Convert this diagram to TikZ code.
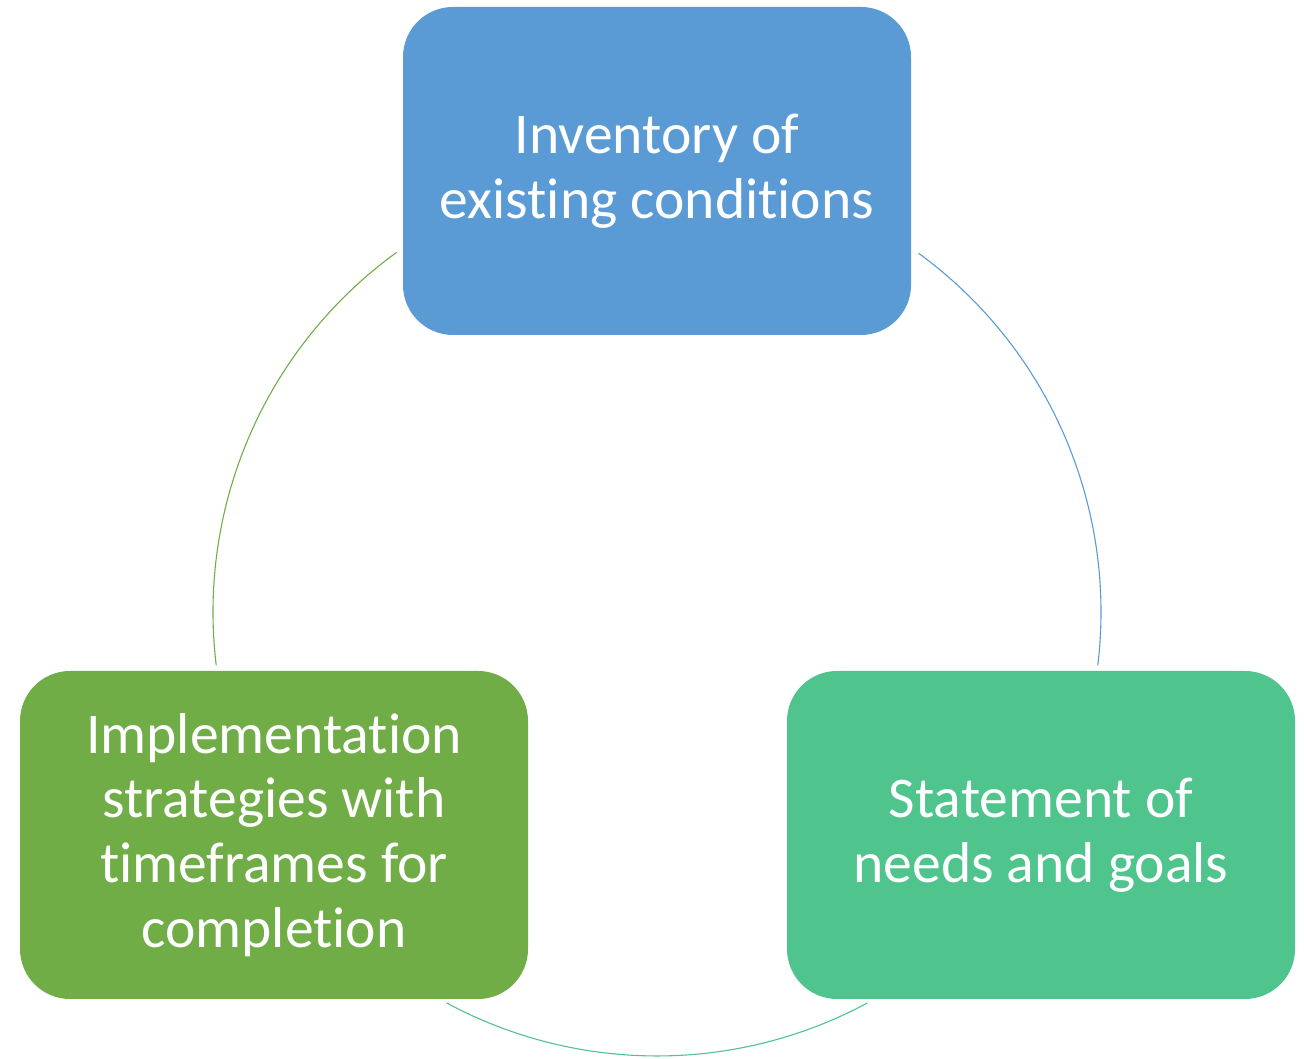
\documentclass[tikz,border=0pt]{standalone}
\usepackage{fontspec}
\setmainfont{Carlito}[Ligatures=NoCommon]
\definecolor{cblue}{HTML}{5B9BD5}
\definecolor{cteal}{HTML}{4FC48D}
\definecolor{cgreen}{HTML}{70AD47}
\begin{document}
\begin{tikzpicture}[x=1pt,y=1pt,
  stagebox/.style={rounded corners=50pt, minimum width=508pt, minimum height=328pt,
    inner sep=0pt, align=center, text=white,
    font=\fontsize{57.6}{64.7}\selectfont},
  cyclearc/.style={line width=1.1pt}]
\fill[white] (0,0) rectangle (1304,1059);
\useasboundingbox (0,0) rectangle (1304,1059);
\coordinate (c) at (657,447);
\draw[cyclearc, cblue] (c) ++(53.9:444pt) arc[start angle=53.9, end angle=-6.9, radius=444pt];
\draw[cyclearc, cteal] (c) ++(-61.7:444pt) arc[start angle=-61.7, end angle=-118.3, radius=444pt];
\draw[cyclearc, cgreen] (c) ++(186.9:444pt) arc[start angle=186.9, end angle=125.9, radius=444pt];
\node[stagebox, fill=cblue] (top) at (657,888) {Inventory of\\existing conditions};
\node[stagebox, fill=cteal] (right) at (1041,224) {Statement of\\needs and goals};
\node[stagebox, fill=cgreen] (left) at (274,224) {Implementation\\strategies with\\timeframes for\\completion};
\end{tikzpicture}
\end{document}
